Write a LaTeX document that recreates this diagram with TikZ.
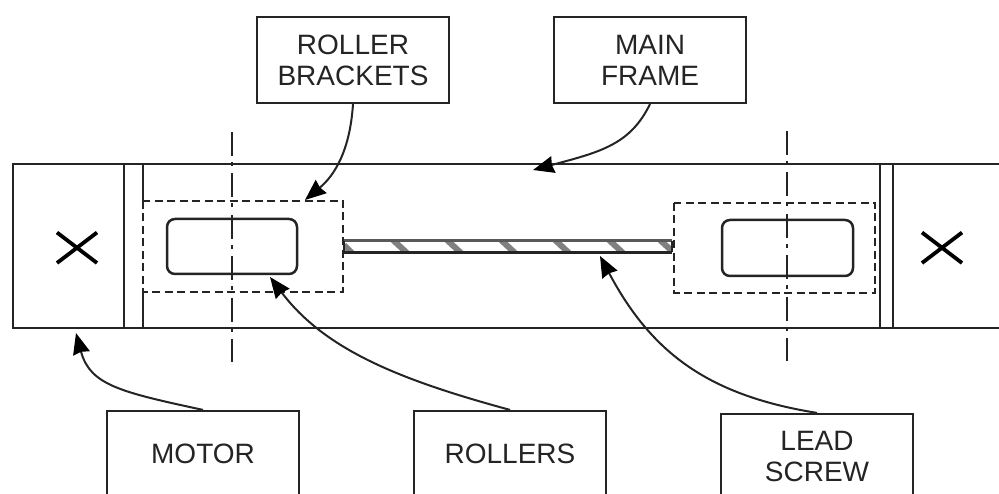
\documentclass[tikz,border=0pt]{standalone}
\usepackage{fontspec}
\setmainfont{Liberation Sans}
\usetikzlibrary{arrows.meta}
\definecolor{ink}{gray}{0.14}
\tikzset{
  lbl/.style={draw=ink,line width=2.2pt,minimum width=192pt,minimum height=86pt,inner sep=0pt,align=center,
    font=\fontsize{28}{31}\selectfont,text=ink},
  body/.style={draw=ink,line width=2.3pt},
  dash box/.style={draw=ink,line width=2.3pt,dash pattern=on 8pt off 4.5pt},
  roller/.style={draw=ink,line width=2.5pt,rounded corners=8pt},
  axis/.style={draw=ink,line width=2pt,dash pattern=on 24pt off 6pt on 4pt off 7.5pt},
  mark x/.style={draw=black,line width=3.8pt},
  lead/.style={draw=ink,line width=2pt,-{Stealth[length=21pt,width=17pt,inset=1.5pt,color=black]}},
  thread/.style={draw=black!50,line width=6pt}
}
\begin{document}
\begin{tikzpicture}[x=1pt,y=-1pt]
\useasboundingbox (0,0) rectangle (999,494);
\clip (0,0) rectangle (999,494);
% frame
\draw[body] (999,164) -- (13,164) -- (13,328) -- (999,328);
\draw[body] (124,164) -- (124,328);
\draw[body] (143,164) -- (143,201);
\draw[body] (143,292) -- (143,328);
\draw[body] (880,164) -- (880,328);
\draw[body] (893,164) -- (893,328);
% brackets
\draw[dash box] (143,201) rectangle (343,292);
\draw[dash box] (674,203) rectangle (875,293);
% rollers
\node[roller,minimum width=130pt,minimum height=55pt,inner sep=0pt] (rl) at (232,246.5) {};
\node[roller,minimum width=131pt,minimum height=56pt,inner sep=0pt] (rr) at (787.5,248) {};
% axes
\draw[axis] (232,132) -- (232,362);
\draw[axis] (787,131) -- (787,361);
% crosses
\draw[mark x] (57,232.5) -- (97,263) (57,263) -- (97,232.5);
\draw[mark x] (922,232.5) -- (962,263) (922,263) -- (962,232.5);
% lead screw
\begin{scope}
\clip (344,241) rectangle (672,252.5);
\foreach \x in {393,447,501,555,609} \draw[thread] (\x,240) -- (\x+14,253);
\draw[thread] (344,245) -- (352,253);
\draw[thread] (660,240) -- (673,252);
\end{scope}
\draw[draw=black!65,line width=3pt] (344,241) -- (672,241);
\draw[draw=ink,line width=2.2pt] (344,252.5) -- (672,252.5);
\draw[draw=ink,line width=2pt] (344,241) -- (344,252.5) (672,241) -- (672,252.5);
% labels
\node[lbl] (rb) at (353,60) {ROLLER\\BRACKETS};
\node[lbl] (mf) at (650,60) {MAIN\\FRAME};
\node[lbl] (mo) at (203,454) {MOTOR};
\node[lbl] (ro) at (510,454) {ROLLERS};
\node[lbl] (ls) at (817,457) {LEAD\\SCREW};
% leader ends
\coordinate (rbend) at (305,200);
\coordinate (mfend) at (533,170);
\coordinate (moend) at (76,333);
\coordinate (roend) at (270,277);
\coordinate (lsend) at (600,256);
\draw[lead] (rb.south) .. controls (350,150) and (335,175) .. (rbend);
\draw[lead] (mf.south) .. controls (630,145) and (600,152) .. (mfend);
\draw[lead] (mo.north) .. controls (120,392) and (90,385) .. (moend);
\draw[lead] (ro.north) .. controls (400,380) and (325,350) .. (roend);
\draw[lead] (ls.north) .. controls (705,395) and (650,350) .. (lsend);
\end{tikzpicture}
\end{document}
